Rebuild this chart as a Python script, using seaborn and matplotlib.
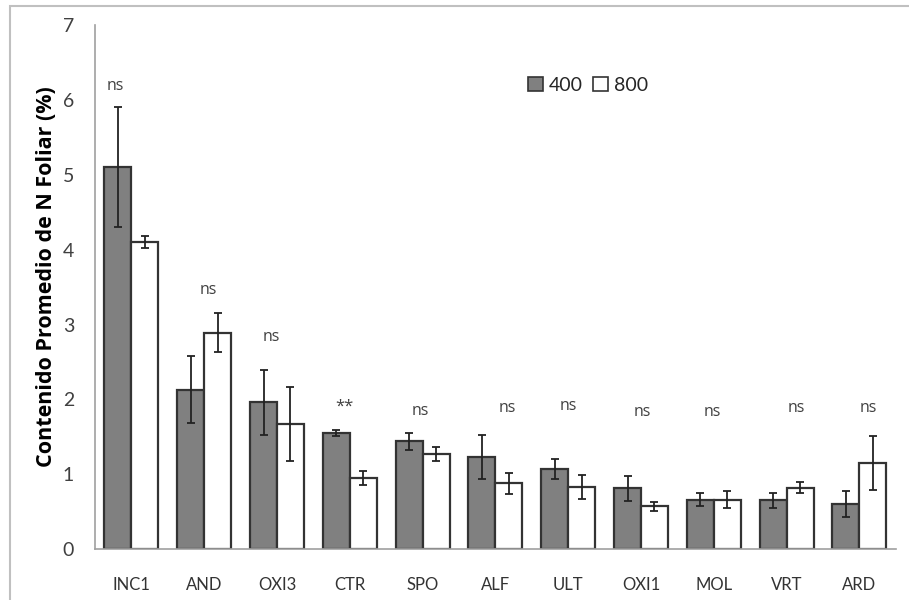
import matplotlib
matplotlib.use("Agg")
import matplotlib.pyplot as plt
from matplotlib.patches import Rectangle, Patch
import numpy as np
import pandas as pd
import seaborn as sns

# Data
genotipos = ["INC1", "AND", "OXI3", "CTR", "SPO", "ALF", "ULT", "OXI1", "MOL", "VRT", "ARD"]
n_400 = [5.11, 2.13, 1.96, 1.55, 1.44, 1.23, 1.07, 0.81, 0.66, 0.65, 0.60]
err_400 = [0.80, 0.45, 0.43, 0.045, 0.11, 0.29, 0.13, 0.17, 0.09, 0.10, 0.17]
n_800 = [4.10, 2.89, 1.67, 0.95, 1.27, 0.88, 0.83, 0.57, 0.66, 0.82, 1.15]
err_800 = [0.08, 0.26, 0.50, 0.09, 0.10, 0.14, 0.16, 0.06, 0.11, 0.07, 0.36]
signif = ["ns", "ns", "ns", "**", "ns", "ns", "ns", "ns", "ns", "ns", "ns"]
signif_y = [6.19, 3.46, 2.83, 1.90, 1.85, 1.89, 1.91, 1.83, 1.83, 1.89, 1.89]
# small horizontal nudges of the labels (in category units)
signif_dx = [-0.22, 0.05, -0.08, -0.08, -0.03, 0.16, 0.0, 0.02, -0.02, 0.14, 0.12]
dosis = ["400", "800"]

df = pd.DataFrame({
    "gen": genotipos * 2,
    "dosis": ["400"] * len(genotipos) + ["800"] * len(genotipos),
    "n": n_400 + n_800,
    "err": err_400 + err_800,
})

sns.set_style("white")
plt.rcParams["font.family"] = ["Lato", "DejaVu Sans"]

fig = plt.figure(figsize=(9.09, 6.0), dpi=100)
ax = fig.add_axes([0.1045, 0.085, 0.881, 0.8727])

colores = {"400": "#808080", "800": "#ffffff"}
sns.barplot(data=df, x="gen", y="n", hue="dosis", hue_order=dosis, palette=colores,
            errorbar=None, width=0.74, edgecolor="#333333", linewidth=1.6,
            legend=False, ax=ax)

# error bars on top of each bar
for cont, d in zip(ax.containers, dosis):
    sub = df[df["dosis"] == d]
    xs = [p.get_x() + p.get_width() / 2 for p in cont]
    ax.errorbar(xs, sub["n"], yerr=sub["err"], fmt="none", ecolor="#222222",
                elinewidth=1.3, capsize=3, capthick=1.3, zorder=5)

for i, (lab, yy, dx) in enumerate(zip(signif, signif_y, signif_dx)):
    ax.text(i + dx, yy, lab, ha="center", va="center", fontsize=11.5 if lab == "ns" else 12,
            color="#404040", fontfamily=["Open Sans", "DejaVu Sans"])

ax.set_ylim(0, 7)
ax.set_xlim(-0.5, len(genotipos) - 0.5)
ax.set_yticks(range(0, 8))
ax.set_xlabel("")
ax.set_ylabel("Contenido Promedio de N Foliar (%)", fontsize=15.5, fontweight="bold",
              color="black", fontfamily=["Open Sans", "DejaVu Sans"])
ax.yaxis.set_label_coords(-0.047, 0.521)

# x ticks sit between categories
ax.set_xticks(np.arange(-0.5, len(genotipos), 1.0), minor=True)
ax.tick_params(axis="x", which="major", length=0, pad=20, labelsize=12, colors="#333333")
ax.tick_params(axis="x", which="minor", length=6, width=1, color="#a0a0a0", direction="out")
ax.tick_params(axis="y", length=6, width=1, color="#a0a0a0", direction="out",
               labelsize=14, labelcolor="#404040", pad=9)

for s in ["top", "right"]:
    ax.spines[s].set_visible(False)
for s in ["left", "bottom"]:
    ax.spines[s].set_color("#a0a0a0")
    ax.spines[s].set_linewidth(1.2)

handles = [Patch(facecolor=colores[d], edgecolor="#333333", linewidth=1.2, label=d) for d in dosis]
fig.legend(handles=handles, ncol=2, frameon=False, loc="center left",
           bbox_to_anchor=(0.572, 0.858), fontsize=14, handlelength=0.8, handleheight=0.8,
           handletextpad=0.3, columnspacing=0.5, borderaxespad=0)

# outer frame (only top and left visible in the original crop)
fig.patches.append(Rectangle((0.011, -0.05), 1.2, 1.04, transform=fig.transFigure,
                             fill=False, edgecolor="#c0c0c0", linewidth=1.5, zorder=-1))

fig.savefig("out.png", dpi=100)
